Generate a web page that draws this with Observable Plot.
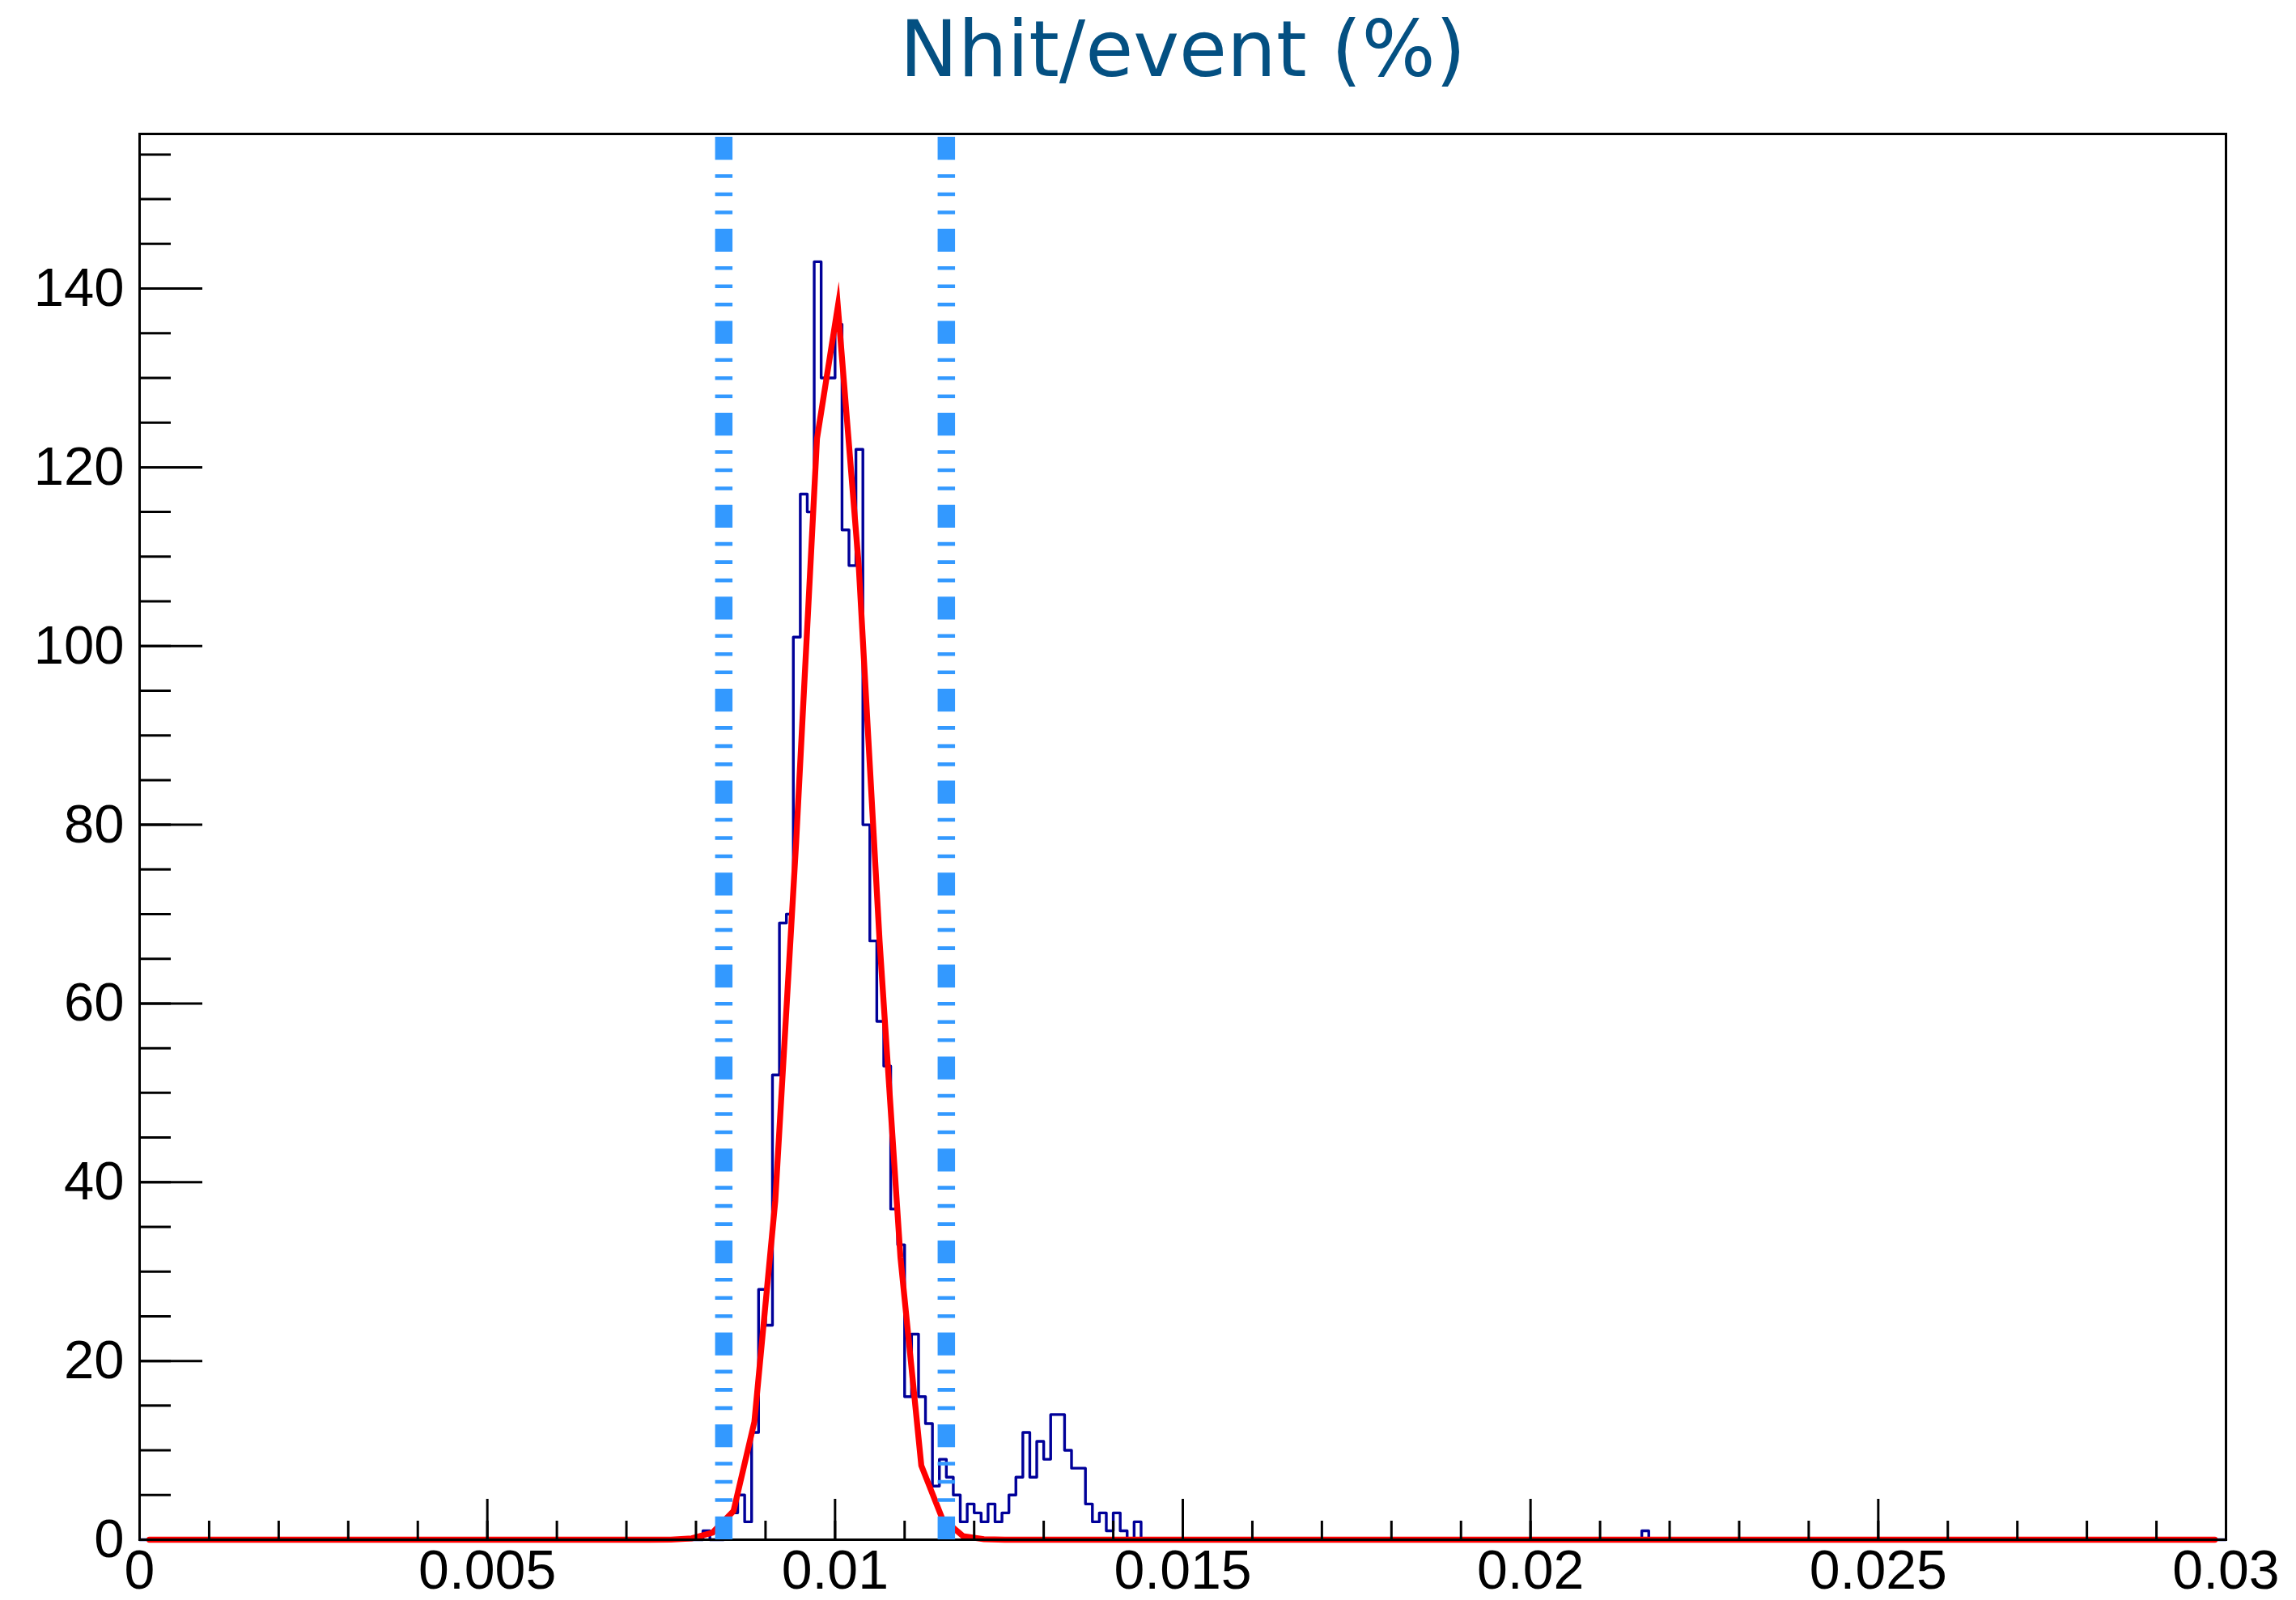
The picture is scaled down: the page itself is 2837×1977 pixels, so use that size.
<!DOCTYPE html>
<html><head><meta charset="utf-8">
<script src="https://cdn.jsdelivr.net/npm/d3@7"></script>
<script src="https://cdn.jsdelivr.net/npm/@observablehq/plot@0.6"></script>
<style>
html,body{margin:0;padding:0;background:#fff;}
#chart{width:2837px;height:1977px;}
</style></head><body><div id="chart"></div>
<script>
// ---------------- data ----------------
const titleText = "Nhit/event (%)";
const binWidth = 0.0001;
const nBins = 300;
const firstBin = 80;
// counts of bins 80 .. 144 (lower edges 0.0080 .. 0.0144)
const peakCounts = [0, 1, 0, 0, 1, 3, 5, 2, 12, 28,
  24, 52, 69, 70, 101, 117, 115, 143, 130, 130,
  136, 113, 109, 122, 80, 67, 58, 53, 37, 33,
  16, 23, 16, 13, 6, 9, 7, 5, 2, 4,
  3, 2, 4, 2, 3, 5, 7, 12, 7, 11,
  9, 14, 14, 10, 8, 8, 4, 2, 3, 1,
  3, 1, 0, 2, 0];
const extraBins = [216];
const extraCounts = [1];
// fitted curve as drawn (polyline vertices)
const fitX = [0.00014, 0.00734, 0.00764, 0.00794, 0.00824, 0.00854, 0.00884, 0.00914, 0.00944, 0.00974,
  0.01004, 0.01034, 0.01064, 0.01094, 0.01124, 0.01154, 0.01184, 0.01214, 0.01244, 0.02984];
const fitY = [0, 0, 0.02, 0.15, 0.8, 3.2, 13.2, 37.9, 78, 123.2,
  138, 109, 67, 31.6, 8.3, 2.4, 0.4, 0.05, 0, 0];
const cutX = [0.0084, 0.0116];
const xMajor = [0, 0.005, 0.01, 0.015, 0.02, 0.025, 0.03];
const xLabels = ["0", "0.005", "0.01", "0.015", "0.02", "0.025", "0.03"];
const xMinor = [0,0.001,0.002,0.003,0.004,0.005,0.006,0.007,0.008,0.009,0.01,0.011,0.012,0.013,0.014,0.015,
  0.016,0.017,0.018,0.019,0.02,0.021,0.022,0.023,0.024,0.025,0.026,0.027,0.028,0.029,0.03];
const yMajor = [0, 20, 40, 60, 80, 100, 120, 140];
const yLabels = ["0", "20", "40", "60", "80", "100", "120", "140"];
const yMinor = [0,5,10,15,20,25,30,35,40,45,50,55,60,65,70,75,80,85,90,95,100,105,110,115,120,125,130,135,140,145,150,155];
const yMax = 157.3;
const xDomain = [0, 0.03];

// ---------------- build ----------------
const counts = new Array(nBins).fill(0);
peakCounts.forEach((c, k) => { counts[firstBin + k] = c; });
extraBins.forEach((b, k) => { counts[b] = extraCounts[k]; });
const histPts = counts.map((c, i) => ({x: i * binWidth, y: c}));
histPts.push({x: nBins * binWidth, y: counts[nBins - 1]});
const fitPts = fitX.map((x, i) => ({x, y: fitY[i]}));

const W = 2837, H = 1977, mL = 172, mR = 87, mT = 165, mB = 75;
const innerW = W - mL - mR, innerH = H - mT - mB;
const font = "'Liberation Sans', Arial, Helvetica, sans-serif";

const chart = Plot.plot({
  width: W, height: H,
  marginLeft: mL, marginRight: mR, marginTop: mT, marginBottom: mB,
  style: {fontFamily: font, background: "#fff", color: "#000", overflow: "visible"},
  x: {domain: xDomain, axis: null},
  y: {domain: [0, yMax], axis: null},
  marks: [
    Plot.line(histPts, {x: "x", y: "y", curve: "step-after", stroke: "#000099", strokeWidth: 3.4}),
    Plot.line(fitPts, {x: "x", y: "y", stroke: "#ff0000", strokeWidth: 7.3, strokeLinejoin: "miter", strokeMiterlimit: 10}),
    Plot.ruleY(yMinor, {stroke: "#000", strokeWidth: 3, insetRight: innerW - 39}),
    Plot.ruleY(yMajor, {stroke: "#000", strokeWidth: 3, insetRight: innerW - 78}),
    Plot.ruleX(xMinor, {stroke: "#000", strokeWidth: 3, insetTop: innerH - 23}),
    Plot.ruleX(xMajor, {stroke: "#000", strokeWidth: 3, insetTop: innerH - 50}),
    Plot.frame({stroke: "#000", strokeWidth: 3}),
    Plot.ruleX(cutX, {y1: 0, y2: yMax, stroke: "#3399ff", strokeWidth: 21.5,
      strokeDasharray: "28.3,17.9,4.6,17.9,4.6,17.9,4.6,17.84"}),
    Plot.axisX(xMajor, {tickSize: 0, tickPadding: 12, fontSize: 68, label: null,
      tickFormat: d => xLabels[xMajor.indexOf(d)]}),
    Plot.axisY(yMajor, {tickSize: 0, tickPadding: 19, fontSize: 67, label: null,
      tickFormat: d => yLabels[yMajor.indexOf(d)]}),
    Plot.text([titleText], {frameAnchor: "top", dy: -71.7, lineAnchor: "bottom", textAnchor: "middle",
      fontSize: 96, fontFamily: "'DejaVu Sans', sans-serif", fill: "#045082"})
  ]
});
document.getElementById("chart").appendChild(chart);
</script>
</body></html>
